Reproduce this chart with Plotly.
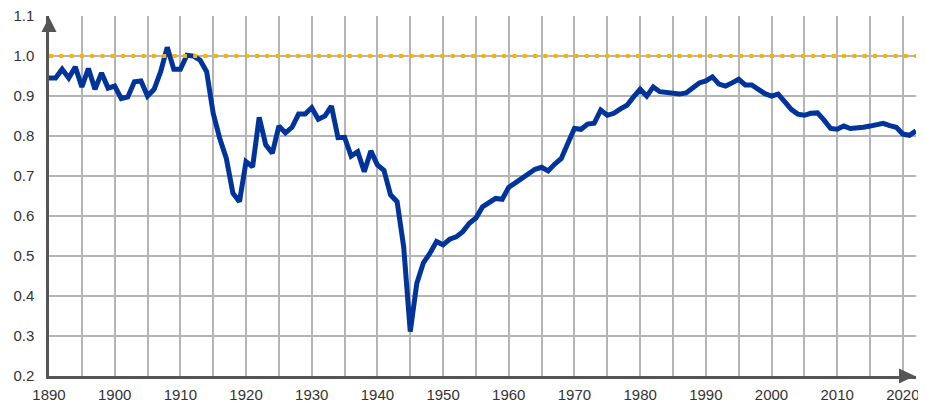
import plotly.graph_objects as go

years = list(range(1890, 2023))
ratio = [
    0.945, 0.945, 0.967, 0.945, 0.973, 0.923, 0.969, 0.917, 0.958, 0.920,  # 1890s
    0.925, 0.894, 0.898, 0.936, 0.938, 0.900, 0.917, 0.961, 1.022, 0.967,  # 1900s
    0.967, 1.002, 1.000, 0.990, 0.961, 0.857, 0.794, 0.744, 0.657, 0.636,  # 1910s
    0.736, 0.723, 0.847, 0.778, 0.757, 0.825, 0.808, 0.822, 0.855, 0.855,  # 1920s
    0.871, 0.842, 0.850, 0.875, 0.796, 0.797, 0.750, 0.761, 0.711, 0.763,  # 1930s
    0.728, 0.714, 0.653, 0.636, 0.523, 0.311, 0.432, 0.483, 0.507, 0.536,  # 1940s
    0.528, 0.542, 0.548, 0.561, 0.582, 0.595, 0.623, 0.633, 0.644, 0.642,  # 1950s
    0.672, 0.683, 0.694, 0.707, 0.717, 0.722, 0.713, 0.730, 0.744, 0.782,  # 1960s
    0.819, 0.817, 0.830, 0.832, 0.865, 0.852, 0.857, 0.868, 0.877, 0.898,  # 1970s
    0.917, 0.900, 0.923, 0.911, 0.908, 0.908, 0.905, 0.908, 0.922, 0.933,  # 1980s
    0.938, 0.948, 0.930, 0.925, 0.933, 0.942, 0.928, 0.928, 0.917, 0.906,  # 1990s
    0.900, 0.905, 0.886, 0.867, 0.855, 0.852, 0.857, 0.858, 0.840, 0.819,  # 2000s
    0.817, 0.825, 0.819, 0.819, 0.822, 0.825, 0.829, 0.832, 0.826, 0.822,  # 2010s
    0.805, 0.802, 0.813,                                                   # 2020s
]
parity = 1.0
y_ticks = [0.2, 0.3, 0.4, 0.5, 0.6, 0.7, 0.8, 0.9, 1.0, 1.1]

grid = "#b5b5b5"
axis = "#555555"
font = dict(family="Liberation Sans, Arial, sans-serif", size=15, color="#333333")

fig = go.Figure()
fig.add_trace(go.Scatter(x=years, y=ratio, mode="lines",
                         line=dict(color="#00349a", width=5),
                         cliponaxis=True, showlegend=False))

# dotted parity line
fig.add_shape(type="line", xref="paper", x0=0, x1=1, yref="y", y0=parity, y1=parity,
              line=dict(color="#f7b500", width=4, dash="4px,6.3px"), layer="above")

# arrow heads on the axes (paper refs so they are not clipped)
fig.add_shape(type="path", xref="paper", yref="paper", xsizemode="pixel", ysizemode="pixel",
              xanchor=0, yanchor=1, path="M-7.5,-16 L7.5,-16 L0,-1 Z",
              fillcolor=axis, line=dict(width=0), layer="above")
fig.add_shape(type="path", xref="paper", yref="paper", xsizemode="pixel", ysizemode="pixel",
              xanchor=1, yanchor=0, path="M-17,7.5 L-17,-7.5 L-1,0 Z",
              fillcolor=axis, line=dict(width=0), layer="above")

# page body has an 8px margin, so the figure is 8px smaller than the window
fig.update_layout(
    width=918, height=397,
    margin=dict(l=41, r=10, t=8, b=29, autoexpand=False),
    paper_bgcolor="white", plot_bgcolor="white",
    font=font,
)
fig.update_xaxes(range=[1890, 2022], dtick=10, tick0=1890,
                 showgrid=True, gridcolor=grid, gridwidth=1.5,
                 minor=dict(dtick=5, tick0=1890, showgrid=True, gridcolor=grid, gridwidth=1.5),
                 showline=True, linecolor=axis, linewidth=2.5,
                 ticks="", ticklabelstandoff=3, zeroline=False, automargin=False,
                 ticklabeloverflow="allow")
fig.update_yaxes(range=[0.2, 1.1003], tickmode="array", tickvals=y_ticks, tickformat=".1f",
                 showgrid=True, gridcolor=grid, gridwidth=1.5,
                 showline=True, linecolor=axis, linewidth=2.5,
                 ticks="", ticklabelstandoff=9, zeroline=False, automargin=False,
                 ticklabeloverflow="allow")

fig.write_html("out.html")
